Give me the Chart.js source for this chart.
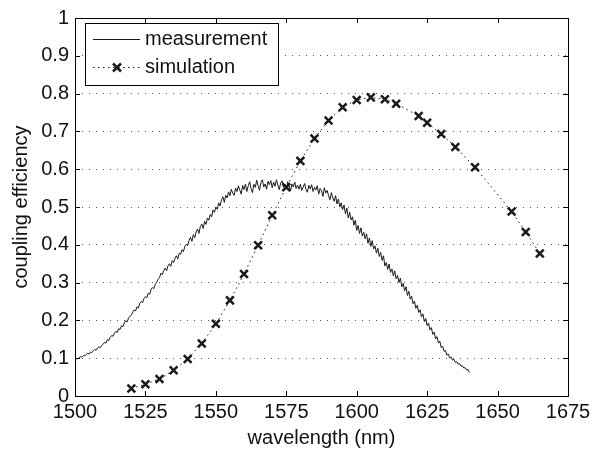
<!DOCTYPE html>
<html>
<head>
<meta charset="utf-8">
<script src="https://cdn.jsdelivr.net/npm/chart.js@4/dist/chart.umd.min.js"></script>
<style>
  html, body { margin: 0; padding: 0; background: #fff; }
  canvas { display: block; }
</style>
</head>
<body>
<canvas id="chart" width="605" height="451"></canvas>
<script>
// measured curve, one value every 0.5 nm starting at 1500 nm
const measStart = 1500
const measStep = 0.5
const measValues = [
  0.096, 0.099, 0.098, 0.102, 0.104, 0.103, 0.107, 0.106, 0.110, 0.113, 0.111, 0.116, 0.115, 0.120, 0.123, 0.121, 0.127, 0.130, 0.128, 0.134,
  0.137, 0.142, 0.140, 0.149, 0.147, 0.155, 0.160, 0.158, 0.166, 0.171, 0.168, 0.178, 0.176, 0.186, 0.183, 0.193, 0.199, 0.196, 0.206, 0.211,
  0.214, 0.222, 0.228, 0.225, 0.236, 0.233, 0.245, 0.250, 0.247, 0.258, 0.263, 0.260, 0.272, 0.269, 0.282, 0.287, 0.284, 0.296, 0.301, 0.309,
  0.313, 0.325, 0.321, 0.332, 0.338, 0.331, 0.344, 0.350, 0.343, 0.358, 0.353, 0.364, 0.371, 0.363, 0.378, 0.375, 0.387, 0.382, 0.396, 0.401,
  0.398, 0.412, 0.420, 0.409, 0.427, 0.419, 0.434, 0.442, 0.430, 0.449, 0.455, 0.443, 0.462, 0.454, 0.471, 0.465, 0.480, 0.474, 0.492, 0.486,
  0.500, 0.494, 0.511, 0.503, 0.519, 0.527, 0.512, 0.531, 0.524, 0.540, 0.530, 0.547, 0.536, 0.531, 0.550, 0.541, 0.556, 0.545, 0.534, 0.557,
  0.546, 0.561, 0.541, 0.556, 0.567, 0.549, 0.538, 0.560, 0.552, 0.571, 0.556, 0.544, 0.565, 0.572, 0.553, 0.561, 0.547, 0.568, 0.559, 0.570,
  0.551, 0.566, 0.555, 0.572, 0.558, 0.546, 0.563, 0.569, 0.552, 0.560, 0.548, 0.567, 0.557, 0.542, 0.561, 0.553, 0.566, 0.549, 0.558, 0.547,
  0.560, 0.544, 0.553, 0.562, 0.546, 0.539, 0.557, 0.548, 0.559, 0.541, 0.552, 0.545, 0.556, 0.534, 0.549, 0.543, 0.528, 0.551, 0.537, 0.544,
  0.530, 0.519, 0.538, 0.524, 0.515, 0.530, 0.508, 0.521, 0.500, 0.511, 0.493, 0.505, 0.482, 0.497, 0.471, 0.486, 0.466, 0.474, 0.452, 0.465,
  0.438, 0.451, 0.430, 0.445, 0.423, 0.433, 0.416, 0.429, 0.404, 0.418, 0.396, 0.411, 0.389, 0.397, 0.378, 0.391, 0.369, 0.380, 0.359, 0.371,
  0.344, 0.353, 0.335, 0.349, 0.327, 0.336, 0.318, 0.331, 0.310, 0.319, 0.300, 0.312, 0.289, 0.298, 0.278, 0.289, 0.266, 0.277, 0.256, 0.264,
  0.244, 0.251, 0.232, 0.240, 0.221, 0.228, 0.209, 0.217, 0.197, 0.205, 0.186, 0.193, 0.175, 0.181, 0.163, 0.169, 0.151, 0.157, 0.140, 0.145,
  0.128, 0.132, 0.118, 0.121, 0.108, 0.111, 0.101, 0.103, 0.095, 0.097, 0.089, 0.091, 0.084, 0.086, 0.079, 0.080, 0.074, 0.075, 0.069, 0.070,
  0.062
]

// simulation points
const simWavelengths = [1520, 1525, 1530, 1535, 1540, 1545, 1550, 1555, 1560, 1565, 1570, 1575, 1580, 1585, 1590, 1595, 1600, 1605, 1610, 1614, 1622, 1625, 1630, 1635, 1642, 1655, 1660, 1665]
const simValues = [0.020, 0.031, 0.045, 0.068, 0.098, 0.139, 0.191, 0.253, 0.323, 0.399, 0.478, 0.552, 0.622, 0.681, 0.729, 0.764, 0.783, 0.790, 0.785, 0.773, 0.741, 0.723, 0.693, 0.659, 0.605, 0.488, 0.434, 0.377]

const xTicks = [1500, 1525, 1550, 1575, 1600, 1625, 1650, 1675]
const yTicks = [0, 0.1, 0.2, 0.3, 0.4, 0.5, 0.6, 0.7, 0.8, 0.9, 1]
const seriesNames = ['measurement', 'simulation']

const FONT = '"Liberation Sans", Arial, Helvetica, sans-serif'

var measPoints = measValues.map(function(v, i){
    return {x: measStart + i * measStep, y: v}
})
var simPoints = simValues.map(function(v, i){
    return {x: simWavelengths[i], y: v}
})

// box, inward ticks and legend, matlab style
const matlabFrame = {
    id: 'matlabFrame',
    afterDraw(chart){
        const ctx = chart.ctx
        const a = chart.chartArea
        const xs = chart.scales.x
        const ys = chart.scales.y
        const tl = 5
        ctx.save()
        ctx.strokeStyle = '#000'
        ctx.lineWidth = 1
        ctx.setLineDash([])
        ctx.beginPath()
        xTicks.forEach(function(t){
            var px = Math.round(xs.getPixelForValue(t)) + 0.5
            ctx.moveTo(px, a.bottom); ctx.lineTo(px, a.bottom - tl)
            ctx.moveTo(px, a.top); ctx.lineTo(px, a.top + tl)
        })
        yTicks.forEach(function(t){
            var py = Math.round(ys.getPixelForValue(t)) + 0.5
            ctx.moveTo(a.left, py); ctx.lineTo(a.left + tl, py)
            ctx.moveTo(a.right, py); ctx.lineTo(a.right - tl, py)
        })
        ctx.stroke()
        ctx.strokeRect(Math.round(a.left) + 0.5, Math.round(a.top) + 0.5, Math.round(a.right - a.left), Math.round(a.bottom - a.top))

        // legend
        const lx = a.left + 10, ly = a.top + 5, lw = 193, lh = 62
        ctx.fillStyle = '#fff'
        ctx.fillRect(lx, ly, lw, lh)
        ctx.strokeRect(lx + 0.5, ly + 0.5, lw, lh)
        ctx.font = '20px ' + FONT
        ctx.textBaseline = 'middle'
        ctx.textAlign = 'left'
        chart.data.datasets.forEach(function(ds, i){
            var yy = ly + 16 + i * 28 + 0.5
            ctx.strokeStyle = ds.borderColor
            ctx.lineWidth = 1
            ctx.setLineDash(ds.borderDash || [])
            ctx.beginPath()
            ctx.moveTo(lx + 8, yy); ctx.lineTo(lx + 55, yy)
            ctx.stroke()
            ctx.setLineDash([])
            if(ds.pointRadius > 0){
                var cx = lx + 32, r = 4
                ctx.lineWidth = ds.pointBorderWidth
                ctx.beginPath()
                ctx.moveTo(cx - r, yy - r); ctx.lineTo(cx + r, yy + r)
                ctx.moveTo(cx - r, yy + r); ctx.lineTo(cx + r, yy - r)
                ctx.stroke()
            }
            ctx.fillStyle = '#111'
            ctx.fillText(ds.label, lx + 60, yy)
        })
        ctx.restore()
    }
}

new Chart(document.getElementById('chart'), {
    type: 'scatter',
    data: {
        datasets: [{
            label: seriesNames[0],
            data: measPoints,
            showLine: true,
            borderColor: '#1a1a1a',
            borderWidth: 1,
            pointRadius: 0,
            tension: 0
        }, {
            label: seriesNames[1],
            data: simPoints,
            showLine: true,
            borderColor: '#1a1a1a',
            borderWidth: 1,
            borderDash: [1.5, 3.5],
            pointStyle: 'crossRot',
            pointRadius: 5.5,
            pointBorderWidth: 2.5,
            pointBorderColor: '#1a1a1a',
            tension: 0
        }]
    },
    options: {
        responsive: false,
        animation: false,
        devicePixelRatio: 1,
        layout: {
            padding: {top: 13, right: 37, left: 0, bottom: 0}
        },
        plugins: {
            legend: {display: false},
            tooltip: {enabled: false}
        },
        scales: {
            x: {
                type: 'linear',
                min: 1500,
                max: 1675,
                afterBuildTicks: function(scale){
                    scale.ticks = xTicks.map(function(v){ return {value: v} })
                },
                afterFit: function(scale){ scale.height = 55 },
                grid: {display: false, drawTicks: false},
                border: {display: false},
                ticks: {
                    color: '#111',
                    padding: 4,
                    maxRotation: 0,
                    font: {family: FONT, size: 20},
                    callback: function(v){ return String(v) }
                },
                title: {
                    display: true,
                    text: 'wavelength (nm)',
                    color: '#111',
                    font: {family: FONT, size: 20},
                    padding: {top: 0, bottom: 1}
                }
            },
            y: {
                type: 'linear',
                min: 0,
                max: 1,
                afterBuildTicks: function(scale){
                    scale.ticks = yTicks.map(function(v){ return {value: v} })
                },
                afterFit: function(scale){ scale.width = 75 },
                grid: {
                    drawTicks: false,
                    color: '#555',
                    lineWidth: 1
                },
                border: {display: false, dash: [1, 6]},
                ticks: {
                    color: '#111',
                    padding: 6,
                    font: {family: FONT, size: 20},
                    callback: function(v){ return String(Math.round(v * 10) / 10) }
                },
                title: {
                    display: true,
                    text: 'coupling efficiency',
                    color: '#111',
                    font: {family: FONT, size: 20},
                    padding: {top: 9, bottom: 0}
                }
            }
        }
    },
    plugins: [matlabFrame]
})
</script>
</body>
</html>
